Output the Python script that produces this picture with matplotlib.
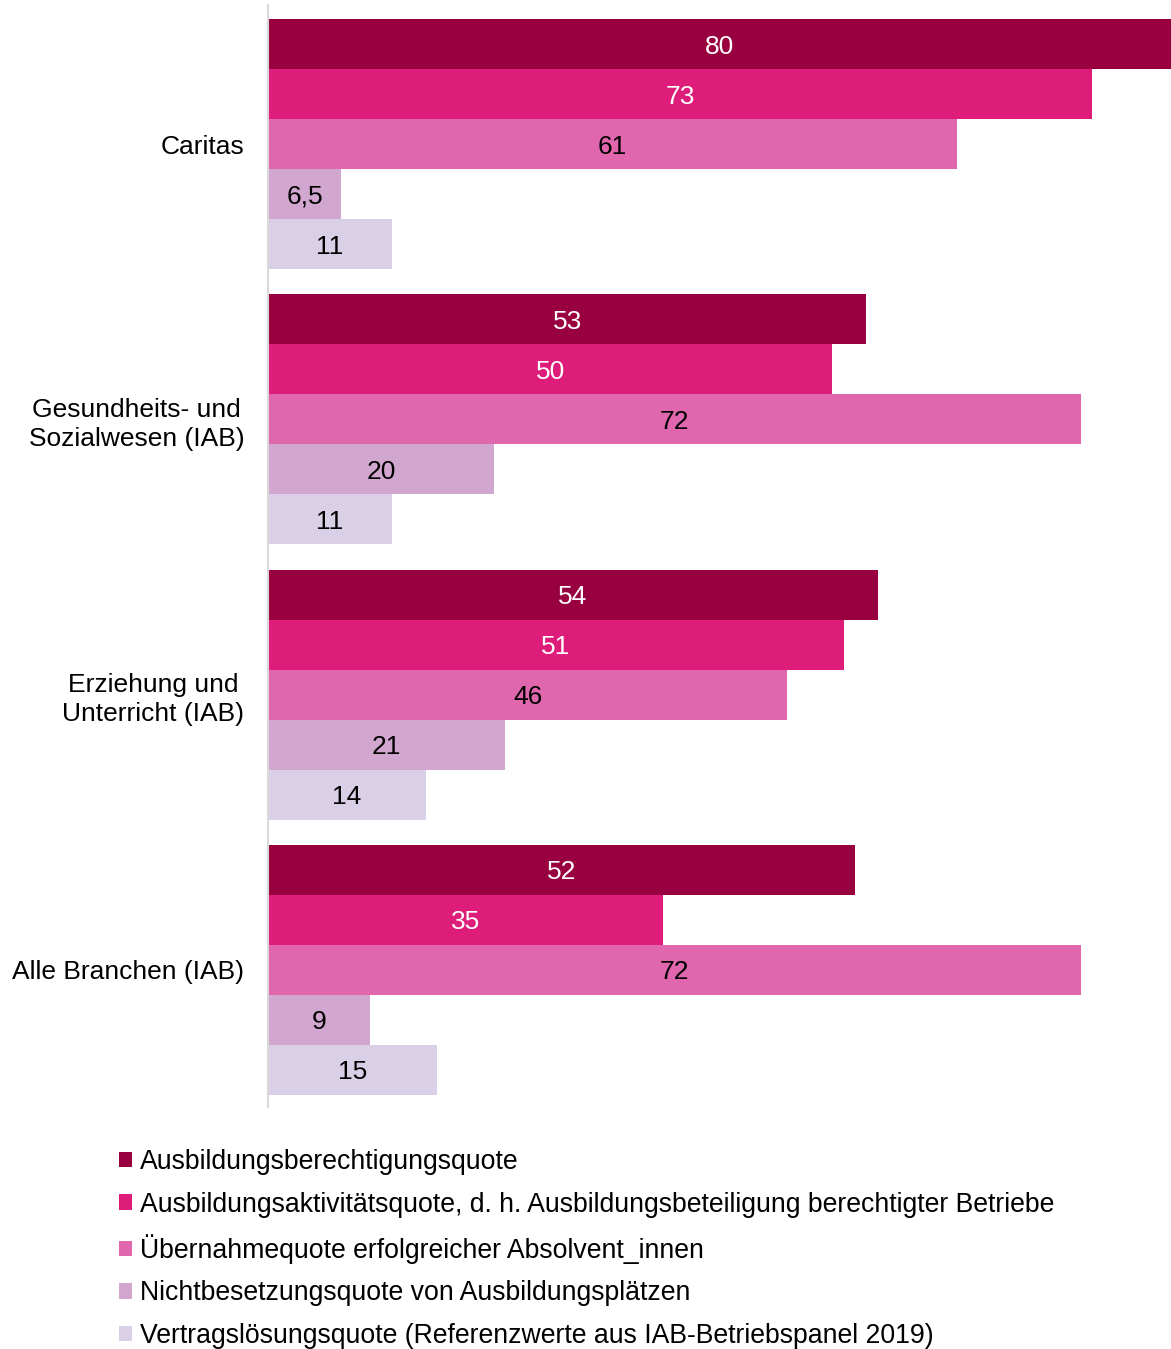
import matplotlib.pyplot as plt
from matplotlib.patches import Patch

plt.rcParams['font.family'] = ['Liberation Sans', 'DejaVu Sans']

categories = ["Caritas", "Gesundheits- und\nSozialwesen (IAB)",
              "Erziehung und\nUnterricht (IAB)", "Alle Branchen (IAB)"]
series_names = [
    "Ausbildungsberechtigungsquote",
    "Ausbildungsaktivitätsquote, d. h. Ausbildungsbeteiligung berechtigter Betriebe",
    "Übernahmequote erfolgreicher Absolvent_innen",
    "Nichtbesetzungsquote von Ausbildungsplätzen",
    "Vertragslösungsquote (Referenzwerte aus IAB-Betriebspanel 2019)",
]
# values[series][category]
values = [
    [80, 53, 54, 52],
    [73, 50, 51, 35],
    [61, 72, 46, 72],
    [6.5, 20, 21, 9],
    [11, 11, 14, 15],
]
value_labels = [
    ["80", "53", "54", "52"],
    ["73", "50", "51", "35"],
    ["61", "72", "46", "72"],
    ["6,5", "20", "21", "9"],
    ["11", "11", "14", "15"],
]
colors = ["#990040", "#DE1D7A", "#E066AE", "#D2A7CF", "#D9D0E7"]
text_colors = ["white", "white", "black", "black", "black"]

FS = 19
W, H = 1171, 1349
fig = plt.figure(figsize=(W / 100, H / 100), dpi=100)
ax = fig.add_axes([268 / W, 1 - 1107 / H, 1 - 268 / W, (1107 - 5) / H])

group_step = 5.5
for s, vals in enumerate(values):
    for g, v in enumerate(vals):
        y = g * group_step + s + 0.5
        ax.barh(y, v, height=1.0, color=colors[s], edgecolor='none')
        ax.text(v / 2, y, value_labels[s][g], ha='center', va='center_baseline',
                fontsize=FS, color=text_colors[s])

ax.set_xlim(0, 80)
ax.set_ylim(21.5 + 12 / 50, -14 / 50)
ax.set_xticks([])
ax.set_yticks([g * group_step + 2.5 for g in range(len(categories))])
ax.set_yticklabels(categories, fontsize=FS, multialignment='center',
                   linespacing=1.27)
ax.tick_params(axis='y', length=0, pad=17)
for side in ['top', 'right', 'bottom']:
    ax.spines[side].set_visible(False)
ax.spines['left'].set_color('#D9D9D9')
ax.spines['left'].set_linewidth(1.5)

handles = [Patch(facecolor=c, edgecolor='none') for c in colors]
fig.legend(handles, series_names, loc='upper left',
           bbox_to_anchor=(119 / W, 1 - 1149 / H), frameon=False,
           fontsize=19.2, handlelength=0.5, handleheight=0.5,
           handletextpad=0.27, labelspacing=0.62, borderpad=0,
           borderaxespad=0)

fig.savefig("out.png", dpi=100)
